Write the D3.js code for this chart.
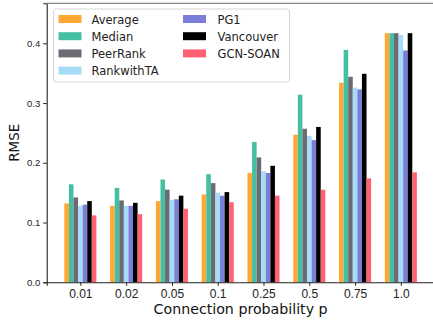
<!DOCTYPE html>
<html>
<head>
<meta charset="utf-8">
<script src="https://cdn.jsdelivr.net/npm/d3@7"></script>
<style>
  body { margin: 0; background: #fff; }
  svg { font-family: "DejaVu Sans", sans-serif; display: block; }
</style>
</head>
<body>
<div id="chart"></div>
<script>
// categories on the x axis
var categories = ["0.01", "0.02", "0.05", "0.1", "0.25", "0.5", "0.75", "1.0"];

// one array per method, in legend order
var average    = [0.132, 0.128, 0.136, 0.147, 0.183, 0.247, 0.334, 0.417];
var median     = [0.164, 0.158, 0.172, 0.181, 0.235, 0.314, 0.389, 0.417];
var peerRank   = [0.142, 0.137, 0.155, 0.166, 0.209, 0.257, 0.344, 0.417];
var rankwithTA = [0.128, 0.128, 0.138, 0.150, 0.186, 0.245, 0.326, 0.414];
var pg1        = [0.130, 0.128, 0.139, 0.145, 0.183, 0.238, 0.323, 0.388];
var vancouver  = [0.136, 0.133, 0.145, 0.151, 0.195, 0.260, 0.349, 0.417];
var gcnSoan    = [0.112, 0.114, 0.123, 0.134, 0.145, 0.155, 0.174, 0.184];

var seriesNames = ["Average", "Median", "PeerRank", "RankwithTA", "PG1", "Vancouver", "GCN-SOAN"];
var seriesValues = [average, median, peerRank, rankwithTA, pg1, vancouver, gcnSoan];
var colors = ["#ffa735", "#45bfa1", "#6c6b73", "#a6dcf7", "#7c7fd9", "#000000", "#ff6172"];

var yTicks = [0.0, 0.1, 0.2, 0.3, 0.4];

// set the dimensions and margins of the graph
var margin = {top: 3.3, left: 46.7},
    width = 387.8,
    height = 279;

var svg = d3.select("#chart")
  .append("svg")
    .attr("width", 433)
    .attr("height", 324)
  .append("g")
    .attr("transform", "translate(" + margin.left + "," + margin.top + ")");

// X: linear over category index, matplotlib style margins
var x = d3.scaleLinear()
  .domain([-0.735, categories.length - 1 + 0.735])
  .range([0, width]);
var barW = 0.1;

var y = d3.scaleLinear()
  .domain([0, 0.467])
  .range([height, 0]);

// bars
seriesValues.forEach(function(vals, s) {
  svg.append("g")
    .selectAll("rect")
    .data(vals)
    .enter()
    .append("rect")
      .attr("x", function(d, i) { return x(i - 0.35 + s * barW); })
      .attr("width", x(barW) - x(0))
      .attr("y", function(d) { return y(d); })
      .attr("height", function(d) { return height - y(d); })
      .attr("fill", colors[s]);
});

// Y axis
var yAxis = svg.append("g")
  .call(d3.axisLeft(y).tickValues(yTicks).tickFormat(d3.format(".1f")).tickSizeOuter(0).tickSize(3.5).tickPadding(3));
yAxis.selectAll("text").style("font-size", "9.5px").attr("fill", "#222");
yAxis.select(".domain").attr("stroke", "#222").attr("stroke-width", 1.1);
yAxis.selectAll(".tick line").attr("stroke", "#222");

// X axis
var xAxis = svg.append("g")
  .attr("transform", "translate(0," + height + ")")
  .call(d3.axisBottom(x).tickValues(d3.range(categories.length))
    .tickFormat(function(i) { return categories[i]; }).tickSizeOuter(0).tickSize(3.5).tickPadding(4));
xAxis.selectAll("text").style("font-size", "12px").attr("fill", "#222");
xAxis.select(".domain").attr("stroke", "#222").attr("stroke-width", 1.1);
xAxis.selectAll(".tick line").attr("stroke", "#222");

// top spine
svg.append("line")
  .attr("x1", 0).attr("x2", width)
  .attr("y1", 0).attr("y2", 0)
  .attr("stroke", "#888")
  .attr("stroke-width", 1.2);

// axis labels
svg.append("text")
  .attr("x", x(3.5))
  .attr("y", 314.5 - margin.top)
  .attr("text-anchor", "middle")
  .style("font-size", "14.2px")
  .attr("fill", "#111")
  .text("Connection probability p");

svg.append("text")
  .attr("transform", "translate(" + (18.5 - margin.left) + "," + (height / 2) + ")rotate(-90)")
  .attr("text-anchor", "middle")
  .style("font-size", "13.5px")
  .attr("fill", "#111")
  .text("RMSE");

// legend
var legend = svg.append("g")
  .attr("transform", "translate(" + (53.5 - margin.left) + "," + (9 - margin.top) + ")");
legend.append("rect")
  .attr("width", 236)
  .attr("height", 73)
  .attr("rx", 3)
  .attr("fill", "#fff")
  .attr("fill-opacity", 0.85)
  .attr("stroke", "#d5d5d5");

seriesNames.forEach(function(name, s) {
  var col = s < 4 ? 0 : 1,
      row = s < 4 ? s : s - 4;
  var g = legend.append("g")
    .attr("transform", "translate(" + (5 + col * 124.5) + "," + (6 + row * 17.2) + ")");
  g.append("rect")
    .attr("width", 23)
    .attr("height", 8)
    .attr("fill", colors[s]);
  g.append("text")
    .attr("x", 33 + col * 1.5)
    .attr("y", 8.5)
    .style("font-size", "11.5px")
    .attr("fill", "#222")
    .text(name);
});
</script>
</body>
</html>
